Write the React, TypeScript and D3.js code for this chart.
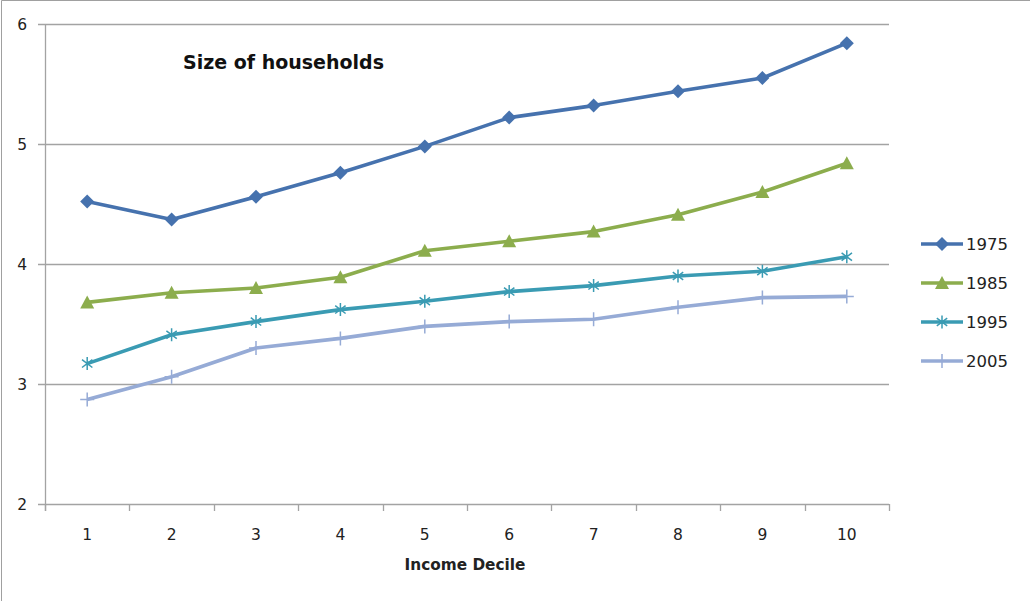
import React from "react";
import * as d3 from "d3";

const deciles = ["1", "2", "3", "4", "5", "6", "7", "8", "9", "10"];
const seriesNames = ["1975", "1985", "1995", "2005"];
const values1975 = [4.52, 4.37, 4.56, 4.76, 4.98, 5.22, 5.32, 5.44, 5.55, 5.84];
const values1985 = [3.68, 3.76, 3.8, 3.89, 4.11, 4.19, 4.27, 4.41, 4.6, 4.84];
const values1995 = [3.17, 3.41, 3.52, 3.62, 3.69, 3.77, 3.82, 3.9, 3.94, 4.06];
const values2005 = [2.87, 3.06, 3.3, 3.38, 3.48, 3.52, 3.54, 3.64, 3.72, 3.73];
const yTicks = [2, 3, 4, 5, 6];

const colors = ["#4672AE", "#8CAD4D", "#3A9BB3", "#96ABD6"];
const markerKinds = ["diamond", "triangle", "asterisk", "plus"];

const W = 1030;
const H = 601;
const plot = { left: 45, right: 889, top: 24, bottom: 504 };
const FONT = "'DejaVu Sans', Verdana, sans-serif";

function Marker({ kind, x, y, color }: { kind: string; x: number; y: number; color: string }) {
  if (kind === "diamond") {
    const r = 7;
    return (
      <path
        d={`M${x},${y - r}L${x + r},${y}L${x},${y + r}L${x - r},${y}Z`}
        fill={color}
      />
    );
  }
  if (kind === "triangle") {
    const w = 7;
    const h = 12;
    return (
      <path
        d={`M${x},${y - h / 2 - 1}L${x + w},${y + h / 2}L${x - w},${y + h / 2}Z`}
        fill={color}
      />
    );
  }
  if (kind === "asterisk") {
    const r = 6.5;
    const d = r * 0.8;
    return (
      <path
        d={`M${x},${y - r}L${x},${y + r}M${x - d},${y - d * 0.75}L${x + d},${y + d * 0.75}M${x - d},${y + d * 0.75}L${x + d},${y - d * 0.75}`}
        stroke={color}
        strokeWidth={1.5}
        fill="none"
      />
    );
  }
  const r = 7;
  return (
    <path
      d={`M${x},${y - r}L${x},${y + r}M${x - r},${y}L${x + r},${y}`}
      stroke={color}
      strokeWidth={1.5}
      fill="none"
    />
  );
}

export default function App() {
  const allSeries = [values1975, values1985, values1995, values2005];

  const x = d3
    .scaleBand<string>()
    .domain(deciles)
    .range([plot.left, plot.right]);
  const y = d3.scaleLinear().domain([2, 6]).range([plot.bottom, plot.top]);

  const cx = (d: string) => (x(d) ?? 0) + x.bandwidth() / 2;

  const line = d3
    .line<number>()
    .x((_, i) => cx(deciles[i]))
    .y((v) => y(v));

  const grid = "#A3A3A3";
  const bandEdges = deciles.map((d) => x(d) ?? 0).concat([plot.right]);

  return (
    <svg
      width={W}
      height={H}
      style={{ position: "absolute", left: 0, top: 0, background: "#fff" }}
    >
      {/* chart frame */}
      <path d={`M1.5,${H}L1.5,0.5L${W},0.5`} stroke="#A0A0A0" strokeWidth={1} fill="none" />

      {/* horizontal gridlines */}
      {yTicks.map((t) => (
        <line
          key={`g${t}`}
          x1={plot.left - 7}
          x2={plot.right}
          y1={Math.round(y(t)) + 0.5}
          y2={Math.round(y(t)) + 0.5}
          stroke={grid}
          strokeWidth={1.3}
        />
      ))}

      {/* y axis */}
      <line
        x1={plot.left + 0.5}
        x2={plot.left + 0.5}
        y1={plot.top}
        y2={plot.bottom + 7}
        stroke={grid}
        strokeWidth={1.3}
      />
      {yTicks.map((t) => (
        <text
          key={`yl${t}`}
          x={27}
          y={y(t) + 6}
          textAnchor="end"
          fontFamily={FONT}
          fontSize={15.5}
          fill="#222"
        >
          {t}
        </text>
      ))}

      {/* x axis */}
      {bandEdges.map((e, i) => (
        <line
          key={`xt${i}`}
          x1={Math.round(e) + 0.5}
          x2={Math.round(e) + 0.5}
          y1={plot.bottom}
          y2={plot.bottom + 7}
          stroke={grid}
          strokeWidth={1.3}
        />
      ))}
      {deciles.map((d) => (
        <text
          key={`xl${d}`}
          x={cx(d)}
          y={540}
          textAnchor="middle"
          fontFamily={FONT}
          fontSize={15.5}
          fill="#222"
        >
          {d}
        </text>
      ))}
      <text
        x={465}
        y={570}
        textAnchor="middle"
        fontFamily={FONT}
        fontSize={15.3}
        fontWeight="bold"
        fill="#222"
      >
        Income Decile
      </text>

      {/* title */}
      <text x={183} y={69} fontFamily={FONT} fontSize={19} fontWeight="bold" fill="#111">
        Size of households
      </text>

      {/* series */}
      {allSeries.map((vals, si) => (
        <g key={seriesNames[si]}>
          <path
            d={line(vals) ?? ""}
            fill="none"
            stroke={colors[si]}
            strokeWidth={3.6}
            strokeLinejoin="round"
          />
          {vals.map((v, i) => (
            <Marker
              key={i}
              kind={markerKinds[si]}
              x={cx(deciles[i])}
              y={y(v)}
              color={colors[si]}
            />
          ))}
        </g>
      ))}

      {/* legend */}
      {seriesNames.map((name, si) => {
        const ly = 244 + si * 39;
        return (
          <g key={`lg${name}`}>
            <line x1={921} x2={963} y1={ly} y2={ly} stroke={colors[si]} strokeWidth={3.6} />
            <Marker kind={markerKinds[si]} x={942} y={ly} color={colors[si]} />
            <text x={966} y={ly + 6} fontFamily={FONT} fontSize={16.5} fill="#222">
              {name}
            </text>
          </g>
        );
      })}
    </svg>
  );
}
